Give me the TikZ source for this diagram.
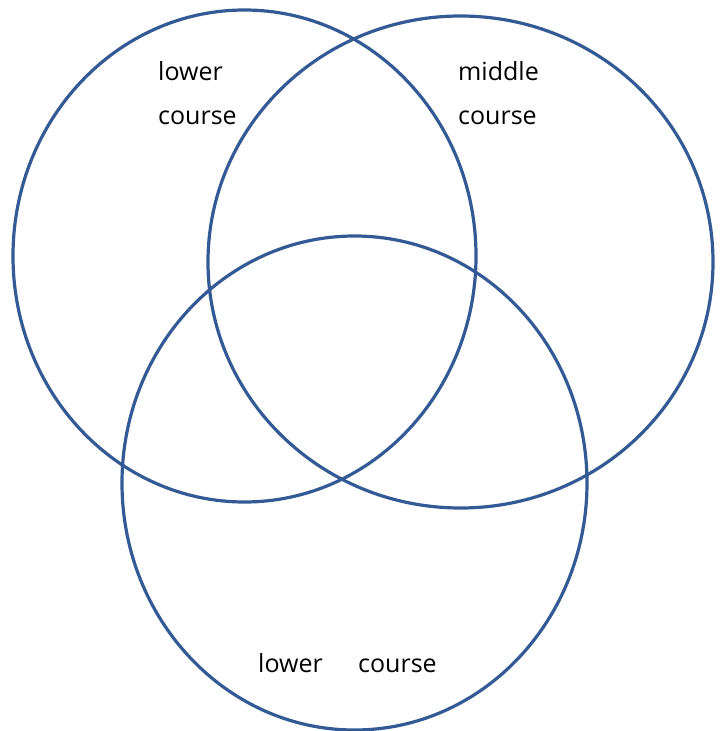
\documentclass[tikz,border=0pt]{standalone}
\usepackage{fontspec}
\setmainfont{Open Sans}
\definecolor{vennblue}{RGB}{52,90,150}
\begin{document}
\begin{tikzpicture}[x=1pt,y=-1pt,
  venn/.style={draw=vennblue,line width=3.2pt},
  lbl/.style={anchor=base west,inner sep=0pt,font=\fontsize{25}{30}\selectfont,text=black}]
\useasboundingbox (0,0) rectangle (720,731);
\draw[venn] (244.5,256) ellipse [x radius=231.5,y radius=246];
\draw[venn] (460.5,262) ellipse [x radius=252.5,y radius=246];
\draw[venn] (354.5,483) ellipse [x radius=232.5,y radius=247];
\node[lbl] (l1) at (158,80) {lower};
\node[lbl] (l2) at (158,124) {course};
\node[lbl] (m1) at (458,80) {middle};
\node[lbl] (m2) at (458,124) {course};
\node[lbl] (b1) at (258,672) {lower};
\node[lbl] (b2) at (358,672) {course};
\end{tikzpicture}
\end{document}
